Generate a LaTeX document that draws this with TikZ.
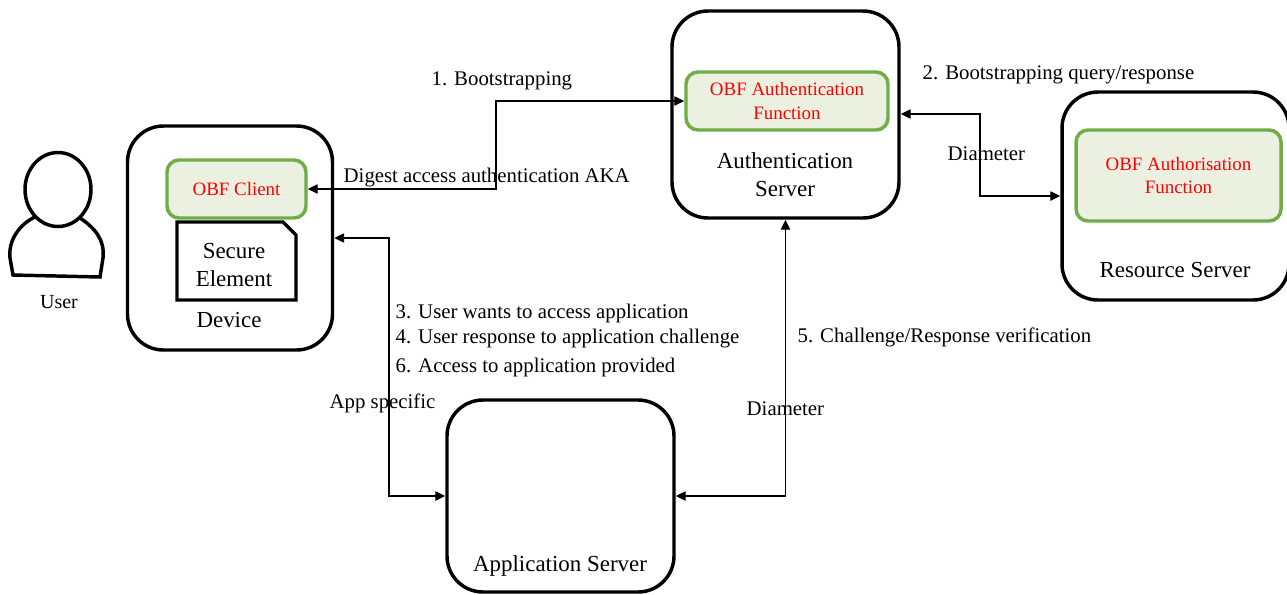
\documentclass[tikz,border=0pt]{standalone}
\usepackage{fontspec}
\setmainfont{Liberation Serif}
\usetikzlibrary{calc,arrows.meta}
\definecolor{obfgreen}{RGB}{112,173,71}
\definecolor{obffill}{RGB}{235,240,224}
\tikzset{
	serverbox/.style={draw, line width=2.6pt, rounded corners=27pt, minimum width=#1*0.75pt, inner sep=0pt},
	obfbox/.style={draw=obfgreen, fill=obffill, line width=2.6pt, rounded corners=9pt, text=red, font=\fontsize{14.2}{17.5}\selectfont, align=center, inner sep=0pt},
	boxtext/.style={font=\fontsize{17.2}{20.5}\selectfont, align=center},
	linktext/.style={font=\fontsize{15.6}{19}\selectfont, anchor=west},
	link/.style={line width=1pt, {Triangle[length=7.5pt,width=7pt]}-{Triangle[length=7.5pt,width=7pt]}},
}

\begin{document}
\begin{tikzpicture}[x=0.75pt,y=-0.75pt]
	\useasboundingbox (0,0) rectangle (1287,594);
	
	% user
	\draw[line width=2.6pt] (58,189.5) ellipse (33 and 37);
	\draw[line width=2.6pt] (35,217) .. controls (20,224) and (8,240) .. (10,258) -- (13,275) -- (100,277) -- (103,258) .. controls (105,240) and (95,228) .. (80,218);
	\node[font=\fontsize{15}{18}\selectfont] (user) at (59,302) {User};
	
	% boxes
	\node[serverbox=205, minimum height=224*0.75pt] (device) at (230,238) {};
	\node[obfbox, minimum width=139*0.75pt, minimum height=58*0.75pt] (client) at (236.5,189) {OBF Client};
	\draw[line width=2.6pt] (177,222) -- (283,222) -- (296,235) -- (296,300) -- (177,300) -- cycle;
	\node[boxtext] (securetext) at (234,265) {Secure\\Element};
	\node[boxtext] (devicetext) at (229,320) {Device};
	
	\node[serverbox=227, minimum height=207*0.75pt] (auth) at (785.5,114.5) {};
	\node[obfbox, minimum width=202*0.75pt, minimum height=58*0.75pt] (authfn) at (787,101) {OBF Authentication\\Function};
	\node[boxtext] (authtext) at (785,174.5) {Authentication\\Server};
	
	\node[serverbox=227, minimum height=208*0.75pt] (resource) at (1175.5,196) {};
	\node[obfbox, minimum width=205*0.75pt, minimum height=91*0.75pt] (resourcefn) at (1178.5,175.5) {OBF Authorisation\\Function};
	\node[boxtext] (resourcetext) at (1175,270) {Resource Server};
	
	\node[serverbox=227, minimum height=192*0.75pt] (app) at (560.5,496) {};
	\node[boxtext] (apptext) at (560,566) {Application Server};
	
	% links
	\draw[link] (client.east) -| (496,101) -- (authfn.west);
	\draw[link] (auth.east |- 0,114) -| (980,196) -- (resource.west);
	\draw[link] (device.east |- 0,238) -| (389,496) -- (app.west);
	\draw[link] (app.east) -| (auth.south);
	
	% labels
	\node[linktext] (t1) at (427,81) {1. Bootstrapping};
	\node[linktext] (t2) at (918,75) {2. Bootstrapping query/response};
	\node[linktext] (t3) at (339,178) {Digest access authentication AKA};
	\node[linktext] (t4) at (943,154) {Diameter};
	\node[linktext] (t5) at (391,313) {3. User wants to access application};
	\node[linktext] (t6) at (391,339) {4. User response to application challenge};
	\node[linktext] (t7) at (391,367) {6. Access to application provided};
	\node[linktext] (t8) at (325,403) {App specific};
	\node[linktext] (t9) at (793,337) {5. Challenge/Response verification};
	\node[linktext] (t10) at (742,409) {Diameter};
\end{tikzpicture}
\end{document}
